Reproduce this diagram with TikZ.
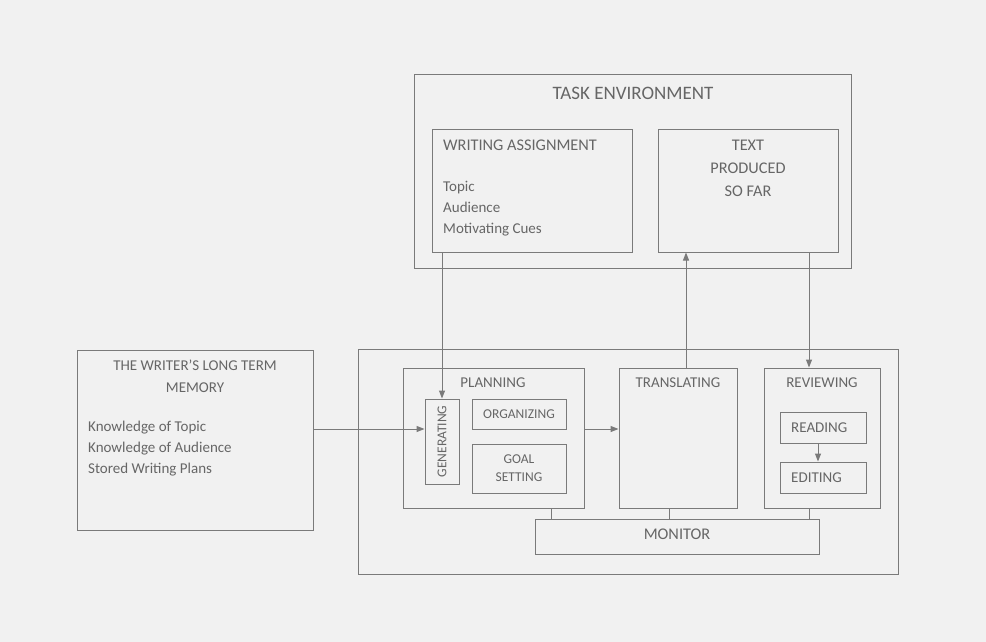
\documentclass[tikz,border=0pt]{standalone}
\usepackage{fontspec}
\setmainfont{Carlito}
\usetikzlibrary{arrows.meta}
\definecolor{bgc}{HTML}{F1F1F1}
\definecolor{linec}{HTML}{7A7A7A}
\definecolor{txtc}{HTML}{666666}
\tikzset{
  box/.style={draw=linec, line width=1pt, inner sep=0pt, fill=none},
  txt/.style={text=txtc, inner sep=0pt, font=\fontsize{15}{21}\selectfont},
  big/.style={text=txtc, inner sep=0pt, font=\fontsize{16.3}{23}\selectfont},
  small/.style={text=txtc, inner sep=0pt, font=\fontsize{13.5}{18}\selectfont},
  conn/.style={draw=linec, line width=1pt},
  arr/.style={conn, -{Triangle[length=8pt,width=6pt]}},
}
\begin{document}
\begin{tikzpicture}[x=1pt,y=-1pt]
\fill[bgc] (0,0) rectangle (986,642);
\useasboundingbox (0,0) rectangle (986,642);
% boxes
\node[box, minimum width=437, minimum height=193] (taskenv) at (632.5,171.5) {};
\node[box, minimum width=200, minimum height=123] (wa) at (532,190.5) {};
\node[box, minimum width=180, minimum height=123] (tp) at (748,190.5) {};
\node[box, minimum width=236, minimum height=180] (ltm) at (195,440) {};
\node[box, minimum width=540, minimum height=225] (proc) at (628,461.5) {};
\node[box, minimum width=181, minimum height=140] (plan) at (493.5,438) {};
\node[box, minimum width=34, minimum height=85] (gen) at (442,441.5) {};
\node[box, minimum width=94, minimum height=30] (org) at (519,414) {};
\node[box, minimum width=94, minimum height=49] (goal) at (519,468.5) {};
\node[box, minimum width=118, minimum height=140] (trans) at (678,438) {};
\node[box, minimum width=116, minimum height=140] (rev) at (822,438) {};
\node[box, minimum width=86, minimum height=31] (read) at (823,427.5) {};
\node[box, minimum width=86, minimum height=31] (edit) at (823,477.5) {};
\node[box, minimum width=284, minimum height=35] (mon) at (677,536.5) {};
% texts
\node[txt, font=\fontsize{19}{23}\selectfont] (tetitle) at (633,93) {TASK ENVIRONMENT};
\node[big, anchor=west] (watitle) at (443,145) {WRITING ASSIGNMENT};
\node[txt, anchor=west, align=left] (walist) at (443,208.5) {Topic\\Audience\\Motivating Cues};
\node[big, align=center] (tptitle) at (748,168) {TEXT\\PRODUCED\\SO FAR};
\node[txt, align=center, font=\fontsize{15}{22}\selectfont] (ltmtitle) at (195,376) {THE WRITER’S LONG TERM\\MEMORY};
\node[txt, anchor=west, align=left] (ltmlist) at (88,449) {Knowledge of Topic\\Knowledge of Audience\\Stored Writing Plans};
\node[txt] (plantitle) at (493,383) {PLANNING};
\node[txt] (transtitle) at (678,383) {TRANSLATING};
\node[txt] (revtitle) at (822,383) {REVIEWING};
\node[small, rotate=90] (gentxt) at (gen.center) {GENERATING};
\node[small] (orgtxt) at (org.center) {ORGANIZING};
\node[small, align=center] (goaltxt) at (goal.center) {GOAL\\SETTING};
\node[txt, anchor=west] (readtxt) at (791,427.5) {READING};
\node[txt, anchor=west] (edittxt) at (791,477.5) {EDITING};
\node[big] (montxt) at (677,534) {MONITOR};
% connectors
\coordinate (h1) at (0,429);
\draw[arr] (gen.north |- wa.south) -- (gen.north);
\draw[arr] (ltm.east |- h1) -- (gen.west |- h1);
\draw[arr] (plan.east |- h1) -- (trans.west |- h1);
\coordinate (v1) at (686,0);
\draw[arr] (trans.north -| v1) -- (tp.south -| v1);
\coordinate (v2) at (809,0);
\draw[arr] (tp.south -| v2) -- (rev.north -| v2);
\draw[arr] (read.south -| 818,0) -- (edit.north -| 818,0);
\coordinate (v3) at (551,0);
\coordinate (v4) at (669,0);
\draw[conn] (plan.south -| v3) -- (mon.north -| v3);
\draw[conn] (trans.south -| v4) -- (mon.north -| v4);
\draw[conn] (rev.south -| v2) -- (mon.north -| v2);
\end{tikzpicture}
\end{document}
